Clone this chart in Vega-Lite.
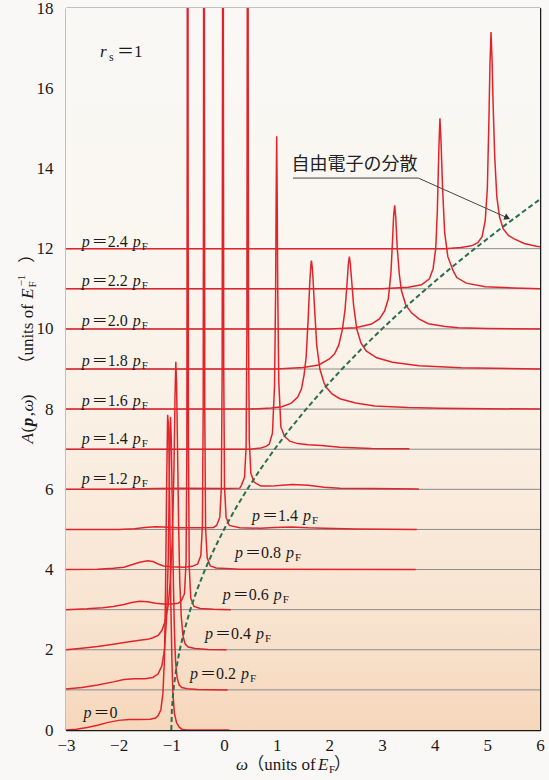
{
 "$schema": "https://vega.github.io/schema/vega-lite/v6.json",
 "width": 474, "height": 722,
 "autosize": {"type": "none"},
 "padding": {"left": 66, "top": 8, "right": 9, "bottom": 50},
 "background": "#f9f8f6",
 "config": {"view": {"stroke": null}, "axis": {"grid": false, "labelFont": "Liberation Serif", "labelFontSize": 17, "labelColor": "#1a1a1a", "tickColor": "#1a1a1a", "domainColor": "#1a1a1a", "domainWidth": 1.5, "tickWidth": 1, "labelFlush": false, "labelOverlap": false}},
 "resolve": {"axis": {"x": "independent", "y": "independent"}},
 "datasets": {
  "base": [{"b":1},{"b":2},{"b":3},{"b":4},{"b":5},{"b":6},{"b":7},{"b":8},{"b":9},{"b":10},{"b":11},{"b":12}],
  "lab": [
   {"p":"2.4","x":-2.7,"y":12.05},{"p":"2.2","x":-2.7,"y":11.07},{"p":"2.0","x":-2.7,"y":10.07},{"p":"1.8","x":-2.7,"y":9.08},{"p":"1.6","x":-2.7,"y":8.08},{"p":"1.4","x":-2.7,"y":7.13},{"p":"1.2","x":-2.7,"y":6.13},
   {"p":"1.4","x":0.53,"y":5.22},{"p":"0.8","x":0.21,"y":4.3},{"p":"0.6","x":-0.025,"y":3.23},{"p":"0.4","x":-0.36,"y":2.26},{"p":"0.2","x":-0.646,"y":1.27},{"p":"0","x":-2.67,"y":0.3}
  ],
  "disp": [{"w":-1,"A":0},{"w":-0.99,"A":0.5},{"w":-0.96,"A":1},{"w":-0.91,"A":1.5},{"w":-0.84,"A":2},{"w":-0.75,"A":2.5},{"w":-0.64,"A":3},{"w":-0.51,"A":3.5},{"w":-0.36,"A":4},{"w":-0.19,"A":4.5},{"w":0,"A":5},{"w":0.21,"A":5.5},{"w":0.44,"A":6},{"w":0.69,"A":6.5},{"w":0.96,"A":7},{"w":1.25,"A":7.5},{"w":1.56,"A":8},{"w":1.89,"A":8.5},{"w":2.24,"A":9},{"w":2.61,"A":9.5},{"w":3,"A":10},{"w":3.41,"A":10.5},{"w":3.84,"A":11},{"w":4.29,"A":11.5},{"w":4.76,"A":12},{"w":5.25,"A":12.5},{"w":5.76,"A":13},{"w":6,"A":13.23}],
  "ann": [{"o":1,"w":1.31,"A":13.76},{"o":2,"w":3.69,"A":13.76},{"o":3,"w":5.38,"A":12.77}],
  "curves": [
   {"s":"p00","w":-3,"A":0},{"s":"p00","w":-2.8,"A":0.02},{"s":"p00","w":-2.6,"A":0.06},{"s":"p00","w":-2.4,"A":0.12},{"s":"p00","w":-2.2,"A":0.19},{"s":"p00","w":-2.0,"A":0.24},{"s":"p00","w":-1.8,"A":0.26},{"s":"p00","w":-1.6,"A":0.26},{"s":"p00","w":-1.4,"A":0.27},{"s":"p00","w":-1.3,"A":0.3},{"s":"p00","w":-1.25,"A":0.36},{"s":"p00","w":-1.2,"A":0.5},{"s":"p00","w":-1.16,"A":0.9},{"s":"p00","w":-1.13,"A":1.8},{"s":"p00","w":-1.11,"A":3.5},{"s":"p00","w":-1.09,"A":6.0},{"s":"p00","w":-1.07,"A":7.86},{"s":"p00","w":-1.05,"A":7.5},{"s":"p00","w":-1.03,"A":5.5},{"s":"p00","w":-1.01,"A":3.2},{"s":"p00","w":-0.99,"A":1.8},{"s":"p00","w":-0.97,"A":0.9},{"s":"p00","w":-0.94,"A":0.4},{"s":"p00","w":-0.9,"A":0.18},{"s":"p00","w":-0.85,"A":0.07},{"s":"p00","w":-0.8,"A":0.02},{"s":"p00","w":-0.7,"A":0},{"s":"p00","w":0.1,"A":0},
   {"s":"p02","w":-3,"A":1.02},{"s":"p02","w":-2.7,"A":1.06},{"s":"p02","w":-2.4,"A":1.12},{"s":"p02","w":-2.1,"A":1.2},{"s":"p02","w":-1.9,"A":1.26},{"s":"p02","w":-1.7,"A":1.28},{"s":"p02","w":-1.5,"A":1.28},{"s":"p02","w":-1.35,"A":1.31},{"s":"p02","w":-1.25,"A":1.4},{"s":"p02","w":-1.18,"A":1.6},{"s":"p02","w":-1.13,"A":2.0},{"s":"p02","w":-1.09,"A":2.8},{"s":"p02","w":-1.06,"A":4.2},{"s":"p02","w":-1.04,"A":6.0},{"s":"p02","w":-1.025,"A":7.5},{"s":"p02","w":-1.015,"A":7.8},{"s":"p02","w":-1.0,"A":7.2},{"s":"p02","w":-0.98,"A":5.4},{"s":"p02","w":-0.96,"A":3.6},{"s":"p02","w":-0.94,"A":2.4},{"s":"p02","w":-0.92,"A":1.7},{"s":"p02","w":-0.89,"A":1.3},{"s":"p02","w":-0.85,"A":1.12},{"s":"p02","w":-0.8,"A":1.06},{"s":"p02","w":-0.7,"A":1.03},{"s":"p02","w":-0.5,"A":1.01},{"s":"p02","w":0.07,"A":1.0},
   {"s":"p04","w":-3,"A":2.0},{"s":"p04","w":-2.7,"A":2.04},{"s":"p04","w":-2.4,"A":2.08},{"s":"p04","w":-2.1,"A":2.14},{"s":"p04","w":-1.8,"A":2.2},{"s":"p04","w":-1.6,"A":2.24},{"s":"p04","w":-1.45,"A":2.26},{"s":"p04","w":-1.35,"A":2.3},{"s":"p04","w":-1.25,"A":2.36},{"s":"p04","w":-1.18,"A":2.48},{"s":"p04","w":-1.12,"A":2.7},{"s":"p04","w":-1.06,"A":3.1},{"s":"p04","w":-1.02,"A":3.7},{"s":"p04","w":-0.98,"A":4.8},{"s":"p04","w":-0.95,"A":6.5},{"s":"p04","w":-0.93,"A":8.3},{"s":"p04","w":-0.915,"A":9.18},{"s":"p04","w":-0.9,"A":8.6},{"s":"p04","w":-0.88,"A":6.8},{"s":"p04","w":-0.86,"A":5.0},{"s":"p04","w":-0.84,"A":3.7},{"s":"p04","w":-0.81,"A":2.8},{"s":"p04","w":-0.78,"A":2.35},{"s":"p04","w":-0.74,"A":2.15},{"s":"p04","w":-0.68,"A":2.07},{"s":"p04","w":-0.55,"A":2.03},{"s":"p04","w":-0.3,"A":2.01},{"s":"p04","w":0.05,"A":2.0},
   {"s":"p06","w":-3,"A":3.0},{"s":"p06","w":-2.6,"A":3.02},{"s":"p06","w":-2.3,"A":3.05},{"s":"p06","w":-2.1,"A":3.08},{"s":"p06","w":-1.9,"A":3.13},{"s":"p06","w":-1.75,"A":3.18},{"s":"p06","w":-1.6,"A":3.21},{"s":"p06","w":-1.45,"A":3.2},{"s":"p06","w":-1.3,"A":3.16},{"s":"p06","w":-1.15,"A":3.14},{"s":"p06","w":-1.0,"A":3.14},{"s":"p06","w":-0.87,"A":3.16},{"s":"p06","w":-0.81,"A":3.22},{"s":"p06","w":-0.75,"A":3.4},{"s":"p06","w":-0.72,"A":4.2},{"s":"p06","w":-0.705,"A":7.1},{"s":"p06","w":-0.698,"A":15},{"s":"p06","w":-0.694,"A":33},{"s":"p06","w":-0.69,"A":63},{"s":"p06","w":-0.686,"A":33},{"s":"p06","w":-0.682,"A":15},{"s":"p06","w":-0.675,"A":7.0},{"s":"p06","w":-0.66,"A":4.05},{"s":"p06","w":-0.63,"A":3.28},{"s":"p06","w":-0.57,"A":3.08},{"s":"p06","w":-0.45,"A":3.03},{"s":"p06","w":-0.2,"A":3.01},{"s":"p06","w":0.13,"A":3.0},
   {"s":"p08","w":-3,"A":4.0},{"s":"p08","w":-2.4,"A":4.01},{"s":"p08","w":-2.1,"A":4.03},{"s":"p08","w":-1.9,"A":4.06},{"s":"p08","w":-1.75,"A":4.12},{"s":"p08","w":-1.6,"A":4.18},{"s":"p08","w":-1.45,"A":4.22},{"s":"p08","w":-1.35,"A":4.2},{"s":"p08","w":-1.25,"A":4.14},{"s":"p08","w":-1.15,"A":4.09},{"s":"p08","w":-1.0,"A":4.07},{"s":"p08","w":-0.75,"A":4.06},{"s":"p08","w":-0.6,"A":4.08},{"s":"p08","w":-0.5,"A":4.14},{"s":"p08","w":-0.44,"A":4.35},{"s":"p08","w":-0.41,"A":5.1},{"s":"p08","w":-0.395,"A":8.0},{"s":"p08","w":-0.388,"A":16},{"s":"p08","w":-0.384,"A":34},{"s":"p08","w":-0.38,"A":64},{"s":"p08","w":-0.376,"A":34},{"s":"p08","w":-0.372,"A":16},{"s":"p08","w":-0.365,"A":8.0},{"s":"p08","w":-0.35,"A":5.05},{"s":"p08","w":-0.32,"A":4.3},{"s":"p08","w":-0.26,"A":4.09},{"s":"p08","w":-0.15,"A":4.04},{"s":"p08","w":0.3,"A":4.01},{"s":"p08","w":3.64,"A":4.0},
   {"s":"p10","w":-3,"A":5.0},{"s":"p10","w":-2.0,"A":5.0},{"s":"p10","w":-1.7,"A":5.02},{"s":"p10","w":-1.5,"A":5.05},{"s":"p10","w":-1.3,"A":5.07},{"s":"p10","w":-1.15,"A":5.06},{"s":"p10","w":-0.9,"A":5.04},{"s":"p10","w":-0.5,"A":5.04},{"s":"p10","w":-0.2,"A":5.05},{"s":"p10","w":-0.14,"A":5.1},{"s":"p10","w":-0.08,"A":5.3},{"s":"p10","w":-0.05,"A":6.05},{"s":"p10","w":-0.035,"A":9},{"s":"p10","w":-0.028,"A":17},{"s":"p10","w":-0.024,"A":35},{"s":"p10","w":-0.02,"A":65},{"s":"p10","w":-0.016,"A":35},{"s":"p10","w":-0.012,"A":17},{"s":"p10","w":-0.005,"A":9},{"s":"p10","w":0.01,"A":6.05},{"s":"p10","w":0.04,"A":5.3},{"s":"p10","w":0.1,"A":5.1},{"s":"p10","w":0.3,"A":5.04},{"s":"p10","w":0.7,"A":5.03},{"s":"p10","w":0.95,"A":5.05},{"s":"p10","w":1.28,"A":5.06},{"s":"p10","w":1.6,"A":5.04},{"s":"p10","w":1.9,"A":5.03},{"s":"p10","w":2.5,"A":5.01},{"s":"p10","w":3.66,"A":5.0},
   {"s":"p12","w":-3,"A":6.0},{"s":"p12","w":-2,"A":6.0},{"s":"p12","w":-1.3,"A":6.02},{"s":"p12","w":-0.8,"A":6.03},{"s":"p12","w":0,"A":6.02},{"s":"p12","w":0.3,"A":6.03},{"s":"p12","w":0.33,"A":6.1},{"s":"p12","w":0.39,"A":6.3},{"s":"p12","w":0.42,"A":7.07},{"s":"p12","w":0.435,"A":10.0},{"s":"p12","w":0.442,"A":18.0},{"s":"p12","w":0.446,"A":36},{"s":"p12","w":0.45,"A":66},{"s":"p12","w":0.454,"A":36},{"s":"p12","w":0.458,"A":18},{"s":"p12","w":0.465,"A":10.1},{"s":"p12","w":0.48,"A":7.2},{"s":"p12","w":0.51,"A":6.4},{"s":"p12","w":0.57,"A":6.18},{"s":"p12","w":0.7,"A":6.08},{"s":"p12","w":0.9,"A":6.08},{"s":"p12","w":1.1,"A":6.1},{"s":"p12","w":1.3,"A":6.12},{"s":"p12","w":1.6,"A":6.1},{"s":"p12","w":1.9,"A":6.05},{"s":"p12","w":2.2,"A":6.03},{"s":"p12","w":2.8,"A":6.02},{"s":"p12","w":3.7,"A":6.01},
   {"s":"p14","w":-3,"A":7.0},{"s":"p14","w":0.5,"A":7.0},{"s":"p14","w":0.7,"A":7.03},{"s":"p14","w":0.8,"A":7.07},{"s":"p14","w":0.86,"A":7.13},{"s":"p14","w":0.92,"A":7.4},{"s":"p14","w":0.96,"A":8.6},{"s":"p14","w":0.98,"A":10.9},{"s":"p14","w":0.99,"A":13.2},{"s":"p14","w":1.0,"A":14.8},{"s":"p14","w":1.01,"A":13.3},{"s":"p14","w":1.02,"A":11.0},{"s":"p14","w":1.04,"A":8.7},{"s":"p14","w":1.08,"A":7.55},{"s":"p14","w":1.15,"A":7.32},{"s":"p14","w":1.25,"A":7.2},{"s":"p14","w":1.4,"A":7.14},{"s":"p14","w":1.6,"A":7.11},{"s":"p14","w":1.85,"A":7.09},{"s":"p14","w":2.2,"A":7.05},{"s":"p14","w":2.8,"A":7.02},{"s":"p14","w":3.52,"A":7.01},
   {"s":"p16","w":-3,"A":8.0},{"s":"p16","w":0.5,"A":8.0},{"s":"p16","w":0.9,"A":8.03},{"s":"p16","w":1.1,"A":8.06},{"s":"p16","w":1.28,"A":8.15},{"s":"p16","w":1.4,"A":8.3},{"s":"p16","w":1.47,"A":8.5},{"s":"p16","w":1.52,"A":8.85},{"s":"p16","w":1.56,"A":9.3},{"s":"p16","w":1.6,"A":10.3},{"s":"p16","w":1.63,"A":11.2},{"s":"p16","w":1.65,"A":11.6},{"s":"p16","w":1.66,"A":11.7},{"s":"p16","w":1.675,"A":11.55},{"s":"p16","w":1.69,"A":11.25},{"s":"p16","w":1.72,"A":10.5},{"s":"p16","w":1.76,"A":9.6},{"s":"p16","w":1.82,"A":9.0},{"s":"p16","w":1.9,"A":8.65},{"s":"p16","w":1.95,"A":8.53},{"s":"p16","w":2.05,"A":8.38},{"s":"p16","w":2.2,"A":8.26},{"s":"p16","w":2.5,"A":8.15},{"s":"p16","w":2.86,"A":8.08},{"s":"p16","w":3.5,"A":8.04},{"s":"p16","w":4.1,"A":8.02},{"s":"p16","w":5,"A":8.01},{"s":"p16","w":6,"A":8.0},
   {"s":"p18","w":-3,"A":9.0},{"s":"p18","w":1.0,"A":9.0},{"s":"p18","w":1.5,"A":9.04},{"s":"p18","w":1.8,"A":9.1},{"s":"p18","w":2.0,"A":9.25},{"s":"p18","w":2.1,"A":9.38},{"s":"p18","w":2.18,"A":9.6},{"s":"p18","w":2.25,"A":10.0},{"s":"p18","w":2.3,"A":10.5},{"s":"p18","w":2.34,"A":11.2},{"s":"p18","w":2.36,"A":11.6},{"s":"p18","w":2.38,"A":11.8},{"s":"p18","w":2.4,"A":11.6},{"s":"p18","w":2.43,"A":11.1},{"s":"p18","w":2.46,"A":10.6},{"s":"p18","w":2.52,"A":10.0},{"s":"p18","w":2.6,"A":9.65},{"s":"p18","w":2.7,"A":9.45},{"s":"p18","w":2.9,"A":9.28},{"s":"p18","w":3.2,"A":9.17},{"s":"p18","w":3.7,"A":9.08},{"s":"p18","w":4.5,"A":9.03},{"s":"p18","w":6.0,"A":9.0},
   {"s":"p20","w":-3,"A":10.0},{"s":"p20","w":2.0,"A":10.0},{"s":"p20","w":2.5,"A":10.03},{"s":"p20","w":2.8,"A":10.12},{"s":"p20","w":2.95,"A":10.25},{"s":"p20","w":3.05,"A":10.45},{"s":"p20","w":3.12,"A":10.75},{"s":"p20","w":3.17,"A":11.4},{"s":"p20","w":3.2,"A":12.2},{"s":"p20","w":3.22,"A":12.8},{"s":"p20","w":3.24,"A":13.08},{"s":"p20","w":3.26,"A":12.8},{"s":"p20","w":3.29,"A":12.0},{"s":"p20","w":3.33,"A":11.35},{"s":"p20","w":3.37,"A":10.95},{"s":"p20","w":3.45,"A":10.6},{"s":"p20","w":3.56,"A":10.4},{"s":"p20","w":3.7,"A":10.25},{"s":"p20","w":3.88,"A":10.13},{"s":"p20","w":4.2,"A":10.06},{"s":"p20","w":4.45,"A":10.03},{"s":"p20","w":5.0,"A":10.01},{"s":"p20","w":6.0,"A":10.0},
   {"s":"p22","w":-3,"A":11.0},{"s":"p22","w":3.0,"A":11.0},{"s":"p22","w":3.5,"A":11.04},{"s":"p22","w":3.75,"A":11.1},{"s":"p22","w":3.9,"A":11.25},{"s":"p22","w":3.97,"A":11.5},{"s":"p22","w":4.02,"A":12.0},{"s":"p22","w":4.05,"A":12.9},{"s":"p22","w":4.08,"A":14.5},{"s":"p22","w":4.1,"A":15.25},{"s":"p22","w":4.12,"A":14.7},{"s":"p22","w":4.15,"A":13.5},{"s":"p22","w":4.19,"A":12.4},{"s":"p22","w":4.25,"A":11.8},{"s":"p22","w":4.35,"A":11.45},{"s":"p22","w":4.42,"A":11.28},{"s":"p22","w":4.6,"A":11.14},{"s":"p22","w":4.96,"A":11.05},{"s":"p22","w":5.5,"A":11.02},{"s":"p22","w":6,"A":11.0},
   {"s":"p24","w":-3,"A":12.0},{"s":"p24","w":4.2,"A":12.0},{"s":"p24","w":4.5,"A":12.03},{"s":"p24","w":4.7,"A":12.07},{"s":"p24","w":4.82,"A":12.15},{"s":"p24","w":4.9,"A":12.3},{"s":"p24","w":4.96,"A":12.7},{"s":"p24","w":5.0,"A":13.5},{"s":"p24","w":5.03,"A":15.2},{"s":"p24","w":5.05,"A":16.6},{"s":"p24","w":5.07,"A":17.4},{"s":"p24","w":5.09,"A":16.7},{"s":"p24","w":5.11,"A":15.6},{"s":"p24","w":5.14,"A":14.3},{"s":"p24","w":5.18,"A":13.3},{"s":"p24","w":5.23,"A":12.8},{"s":"p24","w":5.3,"A":12.5},{"s":"p24","w":5.4,"A":12.33},{"s":"p24","w":5.5,"A":12.25},{"s":"p24","w":5.7,"A":12.13},{"s":"p24","w":5.93,"A":12.06},{"s":"p24","w":6.0,"A":12.05}
  ]
 },
 "layer": [
  {
   "data": {"values": [{}]},
   "mark": {"type": "rect", "fill": {"gradient": "linear", "x1": 0, "y1": 0, "x2": 0, "y2": 1, "stops": [{"offset": 0, "color": "#f9f8f6"}, {"offset": 0.3, "color": "#faf7f1"}, {"offset": 0.6, "color": "#faefe3"}, {"offset": 0.85, "color": "#f8e3cf"}, {"offset": 1, "color": "#f6d7bb"}]}},
   "encoding": {
    "x": {"datum": -3, "type": "quantitative", "scale": {"domain": [-3, 6], "nice": false, "zero": false},
          "axis": {"orient": "bottom", "values": [-3,-2,-1,0,1,2,3,4,5,6], "tickSize": -11, "labelPadding": 18, "format": "d", "title": null, "domain": true}},
    "x2": {"datum": 6},
    "y": {"datum": 0, "type": "quantitative", "scale": {"domain": [0, 18], "nice": false, "zero": false},
          "axis": {"orient": "left", "values": [0,1,2,3,4,5,6,7,8,9,10,11,12,13,14,15,16,17,18], "tickSize": -12, "labelPadding": 25, "labelExpr": "datum.value % 2 === 0 ? datum.label : ''", "title": null, "domain": true}},
    "y2": {"datum": 18}
   }
  },
  {
   "data": {"name": "base"},
   "mark": {"type": "rule", "color": "#8a8a8a", "strokeWidth": 1},
   "encoding": {
    "y": {"field": "b", "type": "quantitative", "scale": {"domain": [0, 18], "nice": false, "zero": false},
          "axis": {"orient": "right", "values": [0,1,2,3,4,5,6,7,8,9,10,11,12,13,14,15,16,17,18], "tickSize": -10, "labels": false, "title": null, "domain": true}}
   }
  },
  {
   "data": {"name": "curves"},
   "mark": {"type": "line", "color": "#e1242b", "strokeWidth": 1.5, "clip": true},
   "encoding": {
    "x": {"field": "w", "type": "quantitative", "scale": {"domain": [-3, 6], "nice": false, "zero": false},
          "axis": {"orient": "top", "values": [-3,-2,-1,0,1,2,3,4,5,6], "tickSize": -11, "labels": false, "title": null, "domain": true}},
    "y": {"field": "A", "type": "quantitative", "axis": null},
    "detail": {"field": "s"}
   }
  },
  {
   "data": {"name": "disp"},
   "mark": {"type": "line", "color": "#2a6e50", "strokeWidth": 2, "strokeDash": [5, 3], "clip": true},
   "encoding": {
    "x": {"field": "w", "type": "quantitative",
          "axis": {"orient": "bottom", "values": [-3,-2.8,-2.6,-2.4,-2.2,-2,-1.8,-1.6,-1.4,-1.2,-1,-0.8,-0.6,-0.4,-0.2,0,0.2,0.4,0.6,0.8,1,1.2,1.4,1.6,1.8,2,2.2,2.4,2.6,2.8,3,3.2,3.4,3.6,3.8,4,4.2,4.4,4.6,4.8,5,5.2,5.4,5.6,5.8,6], "tickSize": -6, "labels": false, "domain": false, "title": null}},
    "y": {"field": "A", "type": "quantitative", "axis": null}
   }
  },
  {
   "data": {"name": "ann"},
   "mark": {"type": "line", "color": "#444444", "strokeWidth": 1},
   "encoding": {
    "x": {"field": "w", "type": "quantitative",
          "axis": {"orient": "top", "values": [-3,-2.8,-2.6,-2.4,-2.2,-2,-1.8,-1.6,-1.4,-1.2,-1,-0.8,-0.6,-0.4,-0.2,0,0.2,0.4,0.6,0.8,1,1.2,1.4,1.6,1.8,2,2.2,2.4,2.6,2.8,3,3.2,3.4,3.6,3.8,4,4.2,4.4,4.6,4.8,5,5.2,5.4,5.6,5.8,6], "tickSize": -7, "labels": false, "domain": false, "title": null}},
    "y": {"field": "A", "type": "quantitative", "axis": null},
    "order": {"field": "o"}
   }
  },
  {
   "data": {"name": "ann"},
   "transform": [{"filter": "datum.o === 3"}],
   "mark": {"type": "point", "shape": "triangle-right", "filled": true, "color": "#333333", "size": 45, "angle": 24, "opacity": 1},
   "encoding": {"x": {"field": "w", "type": "quantitative", "axis": null}, "y": {"field": "A", "type": "quantitative", "axis": null}}
  },
  {
   "data": {"values": [{"t": "自由電子の分散", "x": 1.28, "y": 14.08}]},
   "mark": {"type": "text", "font": "Noto Sans CJK JP", "fontSize": 18, "align": "left", "baseline": "middle", "color": "#222222"},
   "encoding": {"x": {"field": "x", "type": "quantitative", "axis": null}, "y": {"field": "y", "type": "quantitative", "axis": null}, "text": {"field": "t"}}
  },
  {
   "data": {"name": "lab"},
   "mark": {"type": "text", "text": "p", "font": "Liberation Serif", "fontStyle": "italic", "fontSize": 16, "align": "left", "baseline": "alphabetic", "color": "#1a1a1a"},
   "encoding": {"x": {"field": "x", "type": "quantitative", "axis": null}, "y": {"field": "y", "type": "quantitative", "axis": null}}
  },
  {
   "data": {"name": "lab"},
   "mark": {"type": "text", "text": "＝", "font": "Liberation Serif, Noto Sans CJK JP", "fontSize": 16, "align": "left", "baseline": "alphabetic", "dx": 10, "color": "#1a1a1a"},
   "encoding": {"x": {"field": "x", "type": "quantitative", "axis": null}, "y": {"field": "y", "type": "quantitative", "axis": null}}
  },
  {
   "data": {"name": "lab"},
   "mark": {"type": "text", "font": "Liberation Serif", "fontSize": 16, "align": "left", "baseline": "alphabetic", "dx": 26, "color": "#1a1a1a"},
   "encoding": {"x": {"field": "x", "type": "quantitative", "axis": null}, "y": {"field": "y", "type": "quantitative", "axis": null}, "text": {"field": "p"}}
  },
  {
   "data": {"name": "lab"},
   "transform": [{"filter": "datum.p !== '0'"}],
   "mark": {"type": "text", "text": "p", "font": "Liberation Serif", "fontStyle": "italic", "fontSize": 16, "align": "left", "baseline": "alphabetic", "dx": 51, "color": "#1a1a1a"},
   "encoding": {"x": {"field": "x", "type": "quantitative", "axis": null}, "y": {"field": "y", "type": "quantitative", "axis": null}}
  },
  {
   "data": {"name": "lab"},
   "transform": [{"filter": "datum.p !== '0'"}],
   "mark": {"type": "text", "text": "F", "font": "Liberation Serif", "fontSize": 11, "align": "left", "baseline": "alphabetic", "dx": 60, "dy": 3, "color": "#1a1a1a"},
   "encoding": {"x": {"field": "x", "type": "quantitative", "axis": null}, "y": {"field": "y", "type": "quantitative", "axis": null}}
  },
  {
   "data": {"values": [{"x": -2.354, "y": 16.77}]},
   "mark": {"type": "text", "text": "r", "font": "Liberation Serif", "fontStyle": "italic", "fontSize": 17, "align": "left", "baseline": "alphabetic", "color": "#1a1a1a"},
   "encoding": {"x": {"field": "x", "type": "quantitative", "axis": null}, "y": {"field": "y", "type": "quantitative", "axis": null}}
  },
  {
   "data": {"values": [{"x": -2.354, "y": 16.77}]},
   "mark": {"type": "text", "text": "s", "font": "Liberation Serif", "fontSize": 12, "align": "left", "baseline": "alphabetic", "dx": 9, "dy": 4, "color": "#1a1a1a"},
   "encoding": {"x": {"field": "x", "type": "quantitative", "axis": null}, "y": {"field": "y", "type": "quantitative", "axis": null}}
  },
  {
   "data": {"values": [{"x": -2.354, "y": 16.77}]},
   "mark": {"type": "text", "text": "＝1", "font": "Liberation Serif, Noto Sans CJK JP", "fontSize": 17, "align": "left", "baseline": "alphabetic", "dx": 17, "color": "#1a1a1a"},
   "encoding": {"x": {"field": "x", "type": "quantitative", "axis": null}, "y": {"field": "y", "type": "quantitative", "axis": null}}
  },
  {
   "data": {"values": [{"t": "ω", "x": 0.23, "y": -0.995}, {"t": "E", "x": 1.785, "y": -0.995}]},
   "mark": {"type": "text", "font": "Liberation Serif", "fontStyle": "italic", "fontSize": 17, "align": "left", "baseline": "alphabetic", "color": "#1a1a1a"},
   "encoding": {"x": {"field": "x", "type": "quantitative", "axis": null}, "y": {"field": "y", "type": "quantitative", "axis": null}, "text": {"field": "t"}}
  },
  {
   "data": {"values": [{"t": "（units of", "x": 0.44, "y": -0.995}, {"t": "）", "x": 2.09, "y": -0.995}]},
   "mark": {"type": "text", "font": "Liberation Serif, Noto Sans CJK JP", "fontSize": 17, "align": "left", "baseline": "alphabetic", "color": "#1a1a1a"},
   "encoding": {"x": {"field": "x", "type": "quantitative", "axis": null}, "y": {"field": "y", "type": "quantitative", "axis": null}, "text": {"field": "t"}}
  },
  {
   "data": {"values": [{"t": "F", "x": 1.993, "y": -0.995}]},
   "mark": {"type": "text", "font": "Liberation Serif", "fontSize": 11, "align": "left", "baseline": "alphabetic", "dy": 3, "color": "#1a1a1a"},
   "encoding": {"x": {"field": "x", "type": "quantitative", "axis": null}, "y": {"field": "y", "type": "quantitative", "axis": null}, "text": {"field": "t"}}
  },
  {
   "data": {"values": [{"t": "A", "x": -3.62, "y": 7.14}, {"t": "ω", "x": -3.62, "y": 7.94}, {"t": "E", "x": -3.62, "y": 10.75}]},
   "mark": {"type": "text", "font": "Liberation Serif", "fontStyle": "italic", "fontSize": 17, "align": "left", "baseline": "alphabetic", "angle": 270, "color": "#1a1a1a"},
   "encoding": {"x": {"field": "x", "type": "quantitative", "axis": null}, "y": {"field": "y", "type": "quantitative", "axis": null}, "text": {"field": "t"}}
  },
  {
   "data": {"values": [{"t": "p", "x": -3.62, "y": 7.57}]},
   "mark": {"type": "text", "font": "Liberation Serif", "fontStyle": "italic", "fontWeight": "bold", "fontSize": 17, "align": "left", "baseline": "alphabetic", "angle": 270, "color": "#1a1a1a"},
   "encoding": {"x": {"field": "x", "type": "quantitative", "axis": null}, "y": {"field": "y", "type": "quantitative", "axis": null}, "text": {"field": "t"}}
  },
  {
   "data": {"values": [{"t": "(", "x": -3.62, "y": 7.42}, {"t": ",", "x": -3.62, "y": 7.82}, {"t": ")", "x": -3.62, "y": 8.22}, {"t": "（units of", "x": -3.62, "y": 8.91}, {"t": "）", "x": -3.62, "y": 11.65}]},
   "mark": {"type": "text", "font": "Liberation Serif, Noto Sans CJK JP", "fontSize": 17, "align": "left", "baseline": "alphabetic", "angle": 270, "color": "#1a1a1a"},
   "encoding": {"x": {"field": "x", "type": "quantitative", "axis": null}, "y": {"field": "y", "type": "quantitative", "axis": null}, "text": {"field": "t"}}
  },
  {
   "data": {"values": [{"t": "F", "x": -3.62, "y": 11.03}]},
   "mark": {"type": "text", "font": "Liberation Serif", "fontSize": 11, "align": "left", "baseline": "alphabetic", "angle": 270, "dy": 3, "color": "#1a1a1a"},
   "encoding": {"x": {"field": "x", "type": "quantitative", "axis": null}, "y": {"field": "y", "type": "quantitative", "axis": null}, "text": {"field": "t"}}
  },
  {
   "data": {"values": [{"t": "−1", "x": -3.62, "y": 11.06}]},
   "mark": {"type": "text", "font": "Liberation Serif", "fontSize": 11, "align": "left", "baseline": "alphabetic", "angle": 270, "dy": -8, "color": "#1a1a1a"},
   "encoding": {"x": {"field": "x", "type": "quantitative", "axis": null}, "y": {"field": "y", "type": "quantitative", "axis": null}, "text": {"field": "t"}}
  }
 ]
}
